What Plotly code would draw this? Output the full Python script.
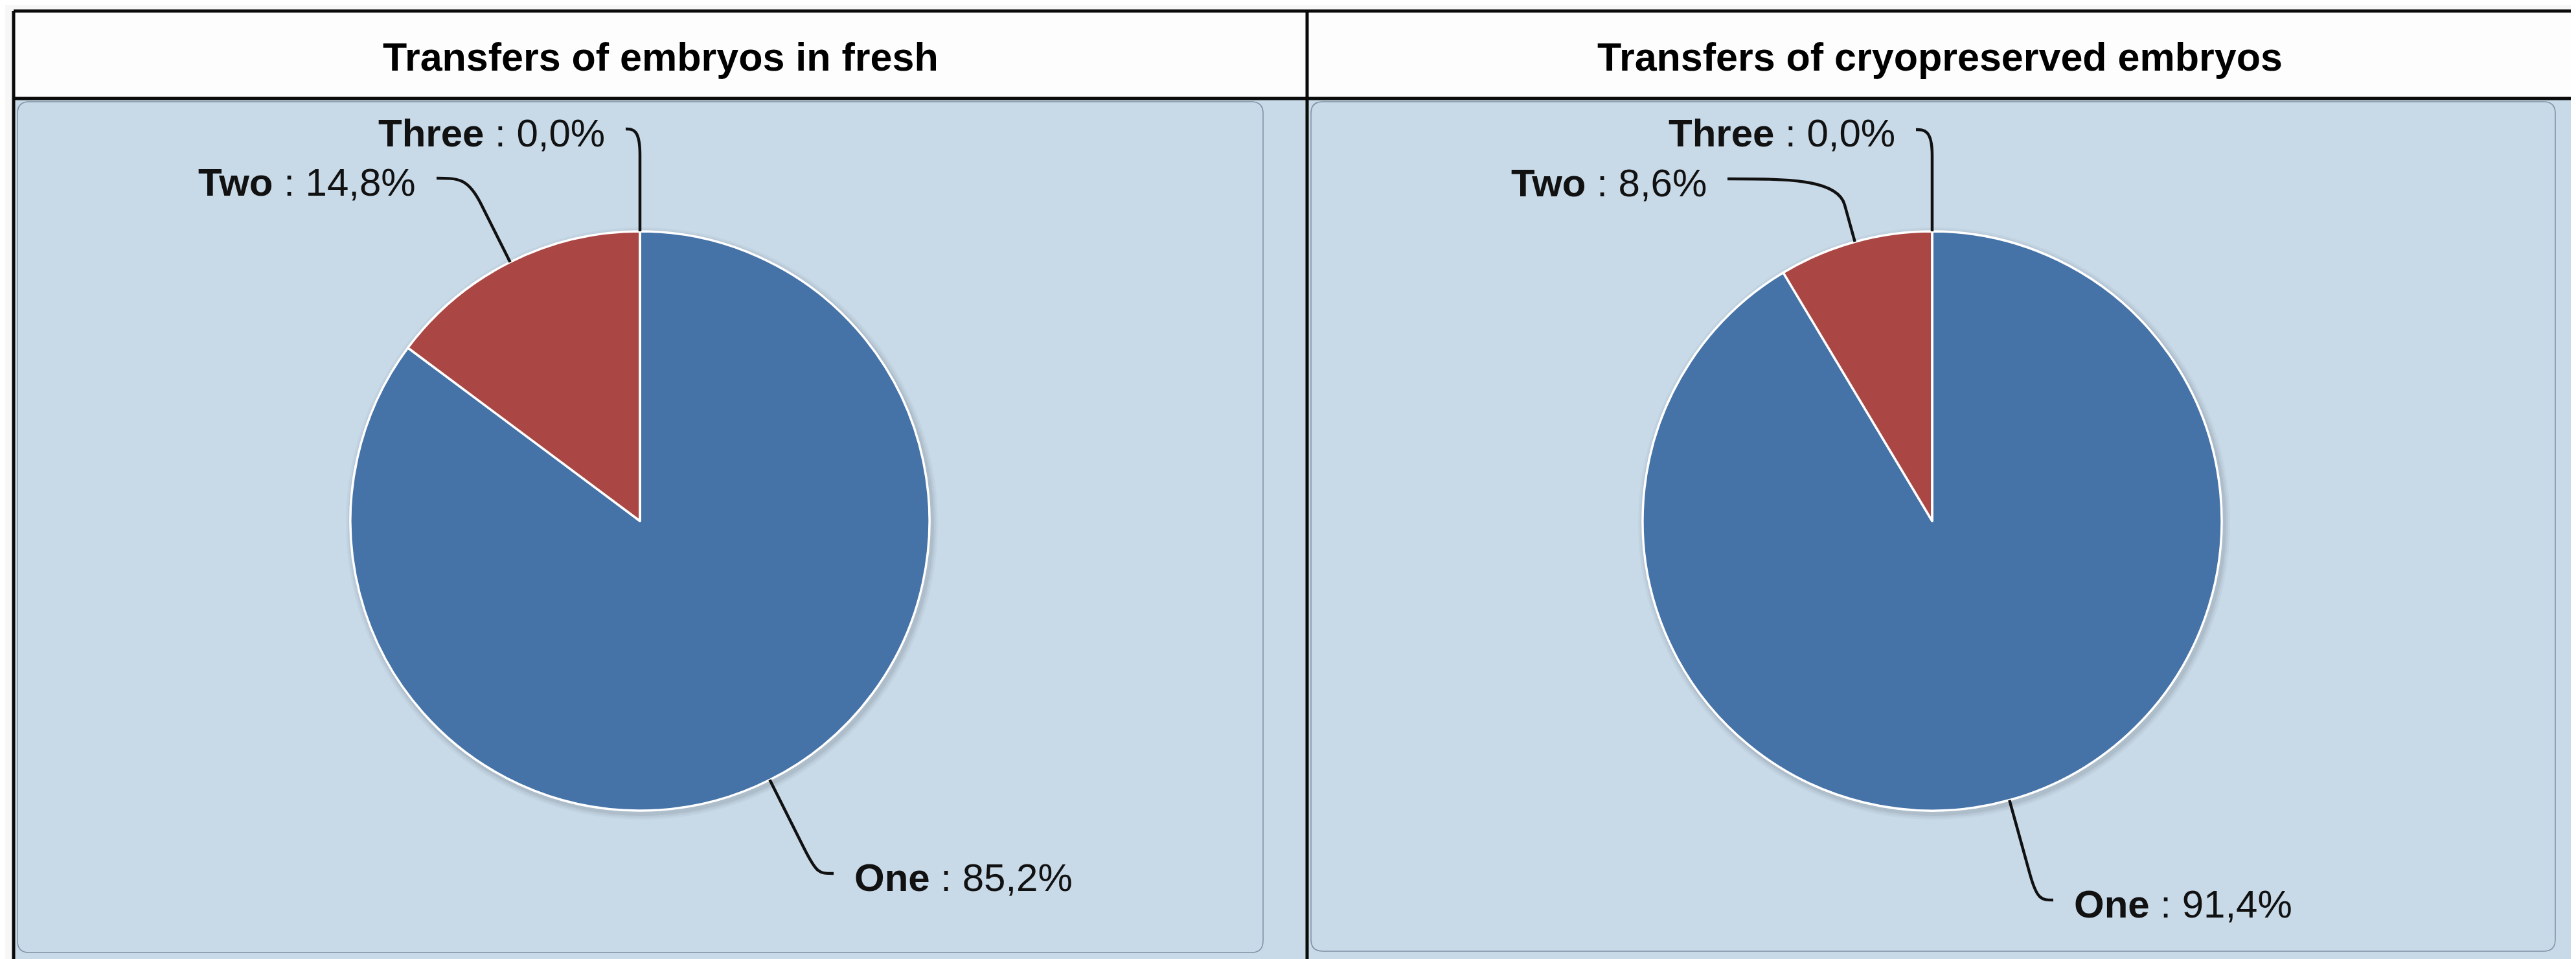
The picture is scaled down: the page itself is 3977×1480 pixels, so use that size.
import math
import plotly.graph_objects as go

# ---------------- data ----------------
categories = ["One", "Two", "Three"]
fresh_values = [85.2, 14.8, 0.0]
cryo_values = [91.4, 8.6, 0.0]
panel_titles = ["Transfers of embryos in fresh", "Transfers of cryopreserved embryos"]
slice_colors = ["#4572A7", "#AA4643", "#89A54E"]

# ---------------- layout constants (pixels) ----------------
W, H = 3977, 1480
PAGE_OFFSET = 8  # default body margin of the html page
PIE_R = 447
PIE_CENTERS = [(988, 804), (2983, 804)]
FRAME_L, FRAME_T, FRAME_R, FRAME_B = 21, 17, 3972, 1500
HEADER_B = 152
DIVIDER_X = 2018
PANELS = [(27, 157, 1950, 1470), (2024, 157, 3945, 1468)]
# connector end next to each label, and the side the label sits on
LABEL_ANCHORS = [
    {"One": (1287, 1348, "right"), "Two": (674, 275, "left"), "Three": (966, 199, "left")},
    {"One": (3170, 1389, "right"), "Two": (2667, 276, "left"), "Three": (2958, 200, "left")},
]
TITLE_Y = 88
LABEL_GAP = 30
BG_BLUE = "#C8D9E8"


def px(x):
    return (x - PAGE_OFFSET) / W


def py(y):
    return 1 - (y - PAGE_OFFSET) / H


fig = go.Figure()
shapes = []
annotations = []

# background cells
shapes.append(dict(type="rect", xref="paper", yref="paper", layer="below",
                   x0=px(FRAME_L), x1=px(FRAME_R), y0=py(HEADER_B), y1=py(FRAME_B),
                   fillcolor=BG_BLUE, line=dict(width=0)))
shapes.append(dict(type="rect", xref="paper", yref="paper", layer="below",
                   x0=px(FRAME_L), x1=px(FRAME_R), y0=py(FRAME_T), y1=py(HEADER_B),
                   fillcolor="#FDFDFD", line=dict(width=0)))


def rounded_rect(x0, y0, x1, y1, r):
    p = [f"M {px(x0 + r)},{py(y0)}", f"L {px(x1 - r)},{py(y0)}",
         f"Q {px(x1)},{py(y0)} {px(x1)},{py(y0 + r)}", f"L {px(x1)},{py(y1 - r)}",
         f"Q {px(x1)},{py(y1)} {px(x1 - r)},{py(y1)}", f"L {px(x0 + r)},{py(y1)}",
         f"Q {px(x0)},{py(y1)} {px(x0)},{py(y1 - r)}", f"L {px(x0)},{py(y0 + r)}",
         f"Q {px(x0)},{py(y0)} {px(x0 + r)},{py(y0)}", "Z"]
    return " ".join(p)


for (x0, y0, x1, y1) in PANELS:
    shapes.append(dict(type="path", xref="paper", yref="paper", layer="below",
                       path=rounded_rect(x0, y0, x1, y1, 18),
                       fillcolor=BG_BLUE, line=dict(color="#7E8FA3", width=1.5)))

# frame lines
for (x0, y0, x1, y1) in [(FRAME_L, FRAME_T, FRAME_R, FRAME_T), (FRAME_L, HEADER_B, FRAME_R, HEADER_B),
                         (FRAME_L, FRAME_T, FRAME_L, FRAME_B), (FRAME_R, FRAME_T, FRAME_R, FRAME_B),
                         (DIVIDER_X, FRAME_T, DIVIDER_X, FRAME_B)]:
    shapes.append(dict(type="line", xref="paper", yref="paper", layer="below",
                       x0=px(x0), x1=px(x1), y0=py(y0), y1=py(y1),
                       line=dict(color="#0A0A0A", width=5)))

all_values = [fresh_values, cryo_values]

for i, values in enumerate(all_values):
    cx, cy = PIE_CENTERS[i]
    # soft shadow
    for k, a in [(10, 0.03), (7, 0.04), (4, 0.06)]:
        shapes.append(dict(type="circle", xref="paper", yref="paper", layer="below",
                           x0=px(cx + 3 - PIE_R - k), x1=px(cx + 3 + PIE_R + k),
                           y0=py(cy + 4 + PIE_R + k), y1=py(cy + 4 - PIE_R - k),
                           fillcolor=f"rgba(0,0,0,{a})", line=dict(width=0)))
    fig.add_trace(go.Pie(
        labels=categories, values=values, sort=False, direction="clockwise", rotation=0,
        marker=dict(colors=slice_colors, line=dict(color="#FFFFFF", width=3.5)),
        textinfo="none", hoverinfo="skip", showlegend=False,
        domain=dict(x=[px(cx - PIE_R), px(cx + PIE_R)], y=[py(cy + PIE_R), py(cy - PIE_R)]),
    ))

    # title
    col_l = FRAME_L if i == 0 else DIVIDER_X
    col_r = DIVIDER_X if i == 0 else FRAME_R
    annotations.append(dict(xref="paper", yref="paper", x=px((col_l + col_r) / 2), y=py(TITLE_Y),
                            xanchor="center", yanchor="middle", showarrow=False,
                            text=f"<b>{panel_titles[i]}</b>",
                            font=dict(family="Liberation Sans Narrow, Arial Narrow, Liberation Sans, sans-serif",
                                      size=61, color="#000000")))

    total = sum(values)
    cum = 0.0
    for cat, v in zip(categories, values):
        theta = math.radians(360.0 * (cum + v / 2.0) / total)
        cum += v
        dx, dy = math.sin(theta), -math.cos(theta)
        ex, ey = cx + PIE_R * dx, cy + PIE_R * dy
        lx, ly, side = LABEL_ANCHORS[i][cat]
        s = max(8.0, (abs(ly - ey) - 40) / max(abs(dy), 0.2))
        bx, by = ex + dx * s, ey + dy * s
        t = abs(ly - by) / max(abs(dy), 0.2)
        c2x, c2y = bx + dx * t, by + dy * t
        c1x, c1y = lx + 0.5 * (bx - lx), ly
        path = (f"M {px(lx)},{py(ly)} C {px(c1x)},{py(c1y)} {px(c2x)},{py(c2y)} {px(bx)},{py(by)} "
                f"L {px(ex)},{py(ey)}")
        shapes.append(dict(type="path", xref="paper", yref="paper", layer="above", path=path,
                           line=dict(color="#111111", width=4.5)))
        val_txt = f"{v:.1f}".replace(".", ",")
        if side == "left":
            ax, xa = lx - LABEL_GAP, "right"
        else:
            ax, xa = lx + LABEL_GAP, "left"
        annotations.append(dict(xref="paper", yref="paper", x=px(ax), y=py(ly + 6),
                                xanchor=xa, yanchor="middle", showarrow=False,
                                text=f"<b>{cat}</b> : {val_txt}%",
                                font=dict(family="Liberation Sans, Arial, sans-serif", size=60,
                                          color="#111111")))

fig.update_layout(
    width=W, height=H, autosize=False,
    margin=dict(l=0, r=0, t=0, b=0, pad=0),
    paper_bgcolor="#F7F7F7", plot_bgcolor="#F7F7F7",
    shapes=shapes, annotations=annotations,
)

fig.write_html("out.html")
